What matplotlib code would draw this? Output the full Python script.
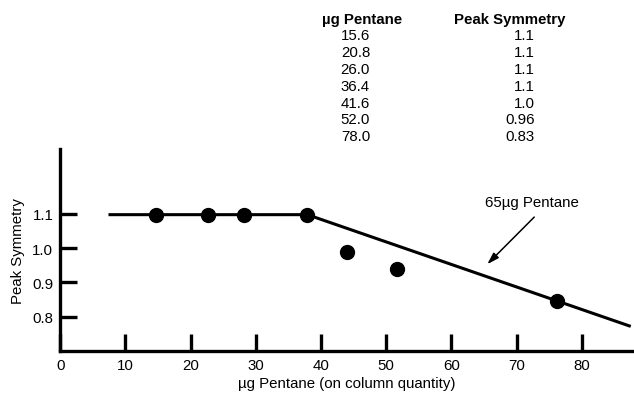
import matplotlib
matplotlib.use('Agg')
import matplotlib.pyplot as plt

plt.rcParams['font.family'] = ['Liberation Sans', 'DejaVu Sans']

# table values (top of figure)
table_pentane = ['15.6', '20.8', '26.0', '36.4', '41.6', '52.0', '78.0']
table_symmetry = ['1.1', '1.1', '1.1', '1.1', '1.0', '0.96', '0.83']

# plotted points
pts_x = [14.7, 22.6, 28.2, 37.9, 44.0, 51.7, 76.2]
pts_y = [1.097, 1.097, 1.097, 1.097, 0.988, 0.94, 0.845]

# fitted line: flat part then falling part
line_x = [7.4, 37.9, 87.5]
line_y = [1.097, 1.097, 0.772]

xticks = [0, 10, 20, 30, 40, 50, 60, 70, 80]
yticks = [0.8, 0.9, 1.0, 1.1]

fs = 10.8

fig = plt.figure(figsize=(6.34, 4.02), dpi=100)
ax = fig.add_axes([0.095, 0.124, 0.905, 0.502])

ax.plot(line_x, line_y, color='black', lw=2.2, solid_capstyle='butt')
ax.plot(pts_x, pts_y, 'o', color='black', ms=10)

ax.set_xlim(0, 88)
ax.set_ylim(0.7, 1.287)
ax.set_xticks(xticks)
ax.set_yticks(yticks)
ax.set_yticklabels(['0.8', '0.9', '1.0', '1.1'])

for s in ['top', 'right']:
    ax.spines[s].set_visible(False)
for s in ['left', 'bottom']:
    ax.spines[s].set_linewidth(2.4)

ax.tick_params(direction='in', length=12, width=2.4, labelsize=fs, pad=5)
ax.set_xlabel('µg Pentane (on column quantity)', fontsize=fs, labelpad=3)
ax.set_ylabel('Peak Symmetry', fontsize=fs, labelpad=5)

# annotation: label and arrow
ax.text(72.4, 1.135, '65µg Pentane', ha='center', va='center', fontsize=fs)
ax.annotate('', xy=(65.5, 0.953), xytext=(72.7, 1.09),
            arrowprops=dict(arrowstyle='-|>,head_length=0.7,head_width=0.22',
                            color='black', lw=1.1, shrinkA=0, shrinkB=0))

# data table above the plot
fig.text(362 / 634, 1 - 20 / 402, 'µg Pentane', ha='center', va='center',
         fontsize=fs, fontweight='bold')
fig.text(510 / 634, 1 - 20 / 402, 'Peak Symmetry', ha='center', va='center',
         fontsize=fs, fontweight='bold')
for i in range(len(table_pentane)):
    yy = 1 - (36.5 + i * 16.8) / 402
    fig.text(370 / 634, yy, table_pentane[i], ha='right', va='center', fontsize=fs)
    fig.text(535 / 634, yy, table_symmetry[i], ha='right', va='center', fontsize=fs)

fig.savefig('out.png', dpi=100)
